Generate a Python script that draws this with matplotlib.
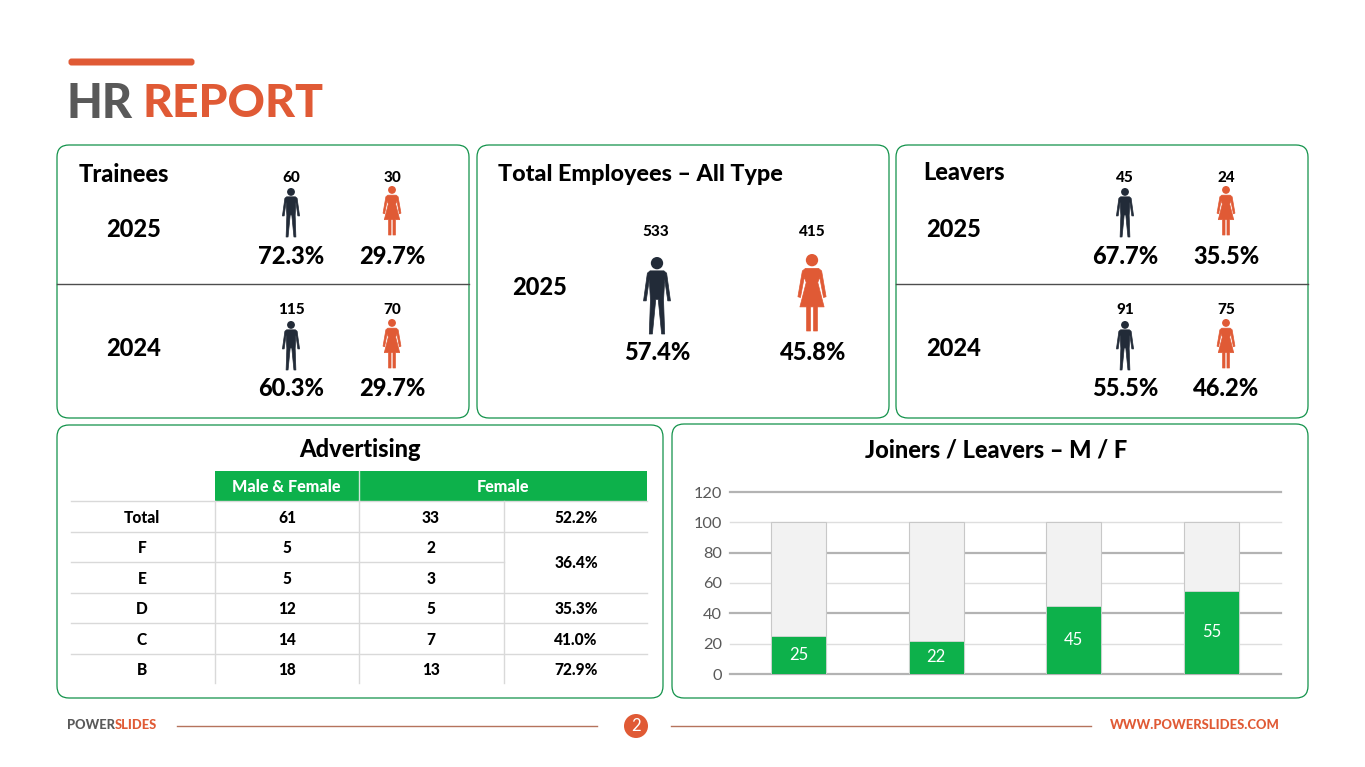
#!/usr/bin/env python3
"""HR report slide, drawn on one pixel-sized canvas plus one axes for the bar chart."""

import matplotlib
matplotlib.use("Agg")
import matplotlib.pyplot as plt
from matplotlib.patches import Circle, FancyBboxPatch, Polygon, Rectangle

plt.rcParams["font.family"] = ["Lato", "DejaVu Sans"]

ORANGE = "#e05a35"
DARK = "#222b38"
GREEN = "#0db14b"
BORDER = "#12924a"
GREY_TITLE = "#595959"
BLACK = "#000000"
HEAVY = 900

# ---- Data ----
TRAINEES_YEARS = ["2025", "2024"]
TRAINEES_MALE = ["60", "115"]
TRAINEES_FEMALE = ["30", "70"]
TRAINEES_MALE_PCT = ["72.3%", "60.3%"]
TRAINEES_FEMALE_PCT = ["29.7%", "29.7%"]

TOTAL_YEAR = "2025"
TOTAL_MALE = "533"
TOTAL_FEMALE = "415"
TOTAL_MALE_PCT = "57.4%"
TOTAL_FEMALE_PCT = "45.8%"

LEAVERS_YEARS = ["2025", "2024"]
LEAVERS_MALE = ["45", "91"]
LEAVERS_FEMALE = ["24", "75"]
LEAVERS_MALE_PCT = ["67.7%", "55.5%"]
LEAVERS_FEMALE_PCT = ["35.5%", "46.2%"]

AD_ROWS = ["Total", "F", "E", "D", "C", "B"]
AD_ALL = [61, 5, 5, 12, 14, 18]
AD_FEMALE = [33, 2, 3, 5, 7, 13]
AD_PCT = ["52.2%", "36.4%", None, "35.3%", "41.0%", "72.9%"]

JOINER_CATS = ["A", "B", "C", "D"]
JOINER_VALUES = [25, 22, 45, 55]
JOINER_TOTAL = [100, 100, 100, 100]
Y_TICKS = [0, 20, 40, 60, 80, 100, 120]

# icon outlines, right half only, in fractions of the icon height
MAN_HALF = [(0, .18), (.09, .18), (.125, .21), (.175, .57), (.14, .57), (.10, .29),
            (.085, .56), (.10, 1), (.06, 1), (.016, .55), (0, .55)]
WOMAN_HALF = [(0, .187), (.085, .187), (.125, .22), (.183, .555), (.15, .565), (.10, .30),
              (.075, .37), (.157, .687), (.07, .687), (.07, 1), (.02, 1), (.02, .687), (0, .687)]

fig = plt.figure(figsize=(13.65, 7.67), dpi=100)
canvas = fig.add_axes([0, 0, 1, 1])
canvas.set_xlim(0, 1365)
canvas.set_ylim(767, 0)
canvas.axis("off")


def label(x, y, s, size=12, color=BLACK, ha="center", weight=HEAVY):
    canvas.text(x, y + 1.5, s, fontsize=size, color=color, ha=ha, va="center", fontweight=weight)


def panel(x0, y0, x1, y1):
    canvas.add_patch(FancyBboxPatch((x0 + 12, y0 + 12), x1 - x0 - 24, y1 - y0 - 24,
                                    boxstyle="round,pad=12,rounding_size=12",
                                    fc="white", ec=BORDER, lw=0.9))


def person(cx, top, height, half, color):
    pts = [(cx + dx * height, top + dy * height) for dx, dy in half]
    pts += [(cx - dx * height, top + dy * height) for dx, dy in reversed(half)]
    canvas.add_patch(Polygon(pts, closed=True, fc=color, ec=color, lw=0.5, joinstyle="round"))
    canvas.add_patch(Circle((cx, top + 0.08 * height), 0.08 * height, fc=color, ec="none"))


def year_block(xm, xf, x_year, y_year, top, year, male, female, male_pct, female_pct):
    label(x_year, y_year, year, 17)
    label(xm, top - 12, male, 11)
    label(xf, top - 12, female, 11)
    person(xm, top, 49, MAN_HALF, DARK)
    person(xf, top - 2, 49, WOMAN_HALF, ORANGE)
    label(xm, top + 66.5, male_pct, 17)
    label(xf, top + 66.5, female_pct, 17)


# ---- Header ----
canvas.add_patch(FancyBboxPatch((71, 61), 121, 2, boxstyle="round,pad=2.5,rounding_size=3",
                                fc=ORANGE, ec="none"))
canvas.text(66, 104, "HR", fontsize=33.5, color=GREY_TITLE, fontweight=HEAVY, va="center")
canvas.text(143, 104, "REPORT", fontsize=33.3, color=ORANGE, fontweight=HEAVY, va="center")

# ---- Top panels ----
panel(57, 145, 469, 418)
panel(477, 145, 889, 418)
panel(896, 145, 1308, 418)
panel(57, 425, 663, 698)
panel(672, 424, 1308, 698)

canvas.plot([57, 469], [284, 284], color="#4d4d4d", lw=1)
canvas.plot([896, 1308], [284, 284], color="#4d4d4d", lw=1)

label(79, 173, "Trainees", 17, ha="left")
for i, (top, y_year) in enumerate(zip([188, 321], [228, 347])):
    year_block(291, 392, 134, y_year, top, TRAINEES_YEARS[i], TRAINEES_MALE[i], TRAINEES_FEMALE[i],
               TRAINEES_MALE_PCT[i], TRAINEES_FEMALE_PCT[i])

label(498, 173, "Total Employees \u2013 All Type", 16.8, ha="left")
label(540, 286, TOTAL_YEAR, 17)
label(656, 231, TOTAL_MALE, 11)
label(812, 231, TOTAL_FEMALE, 11)
person(657, 257, 77, MAN_HALF, DARK)
person(812, 254, 77, WOMAN_HALF, ORANGE)
label(657, 350.5, TOTAL_MALE_PCT, 17)
label(813, 350.5, TOTAL_FEMALE_PCT, 17)

label(923, 171, "Leavers", 17, ha="left")
for i, (top, y_year) in enumerate(zip([188, 321], [228, 347])):
    year_block(1125, 1226, 954, y_year, top, LEAVERS_YEARS[i], LEAVERS_MALE[i], LEAVERS_FEMALE[i],
               LEAVERS_MALE_PCT[i], LEAVERS_FEMALE_PCT[i])

# ---- Advertising table ----
label(360, 448, "Advertising", 17)
col_x = [71, 214.5, 359, 503.5, 647]
row_y = [501, 531.5, 562, 592.5, 623, 653.5, 683]
LINE = "#d9d9d9"

canvas.add_patch(Rectangle((col_x[1], 471), col_x[4] - col_x[1], 30, fc=GREEN, ec="none"))
canvas.plot([col_x[2], col_x[2]], [471, 501], color="#cfe8d8", lw=1)
label((col_x[1] + col_x[2]) / 2, 486, "Male & Female", 11.6, color="white")
label((col_x[2] + col_x[4]) / 2, 486, "Female", 11.6, color="white")

for i, y in enumerate(row_y[:-1]):
    # the F row shares its percent cell with E, so that rule stops short
    x_end = col_x[3] if i == 2 else col_x[4]
    canvas.plot([col_x[0], x_end], [y, y], color=LINE, lw=1)
for x in col_x[1:4]:
    canvas.plot([x, x], [501, row_y[-1]], color=LINE, lw=1)

for i, name in enumerate(AD_ROWS):
    y = (row_y[i] + row_y[i + 1]) / 2
    label(142, y, name, 11.2)
    label(287, y, str(AD_ALL[i]), 11.2)
    label(431, y, str(AD_FEMALE[i]), 11.2)
    if AD_PCT[i] is not None:
        y_pct = row_y[i + 1] if name == "F" else y
        label(576, y_pct, AD_PCT[i], 11.2)

# ---- Bar chart ----
label(996, 448, "Joiners / Leavers \u2013 M / F", 17)

ax = fig.add_axes([729.5 / 1365, (767 - 674) / 767, 551 / 1365, 182 / 767])
ax.patch.set_alpha(0)
ax.set_xlim(-0.5, 3.5)
ax.set_ylim(0, 120)
for side in ax.spines.values():
    side.set_visible(False)
ax.set_xticks([])
ax.set_yticks(Y_TICKS)
ax.tick_params(axis="y", length=0, pad=5.5, labelsize=11.8, labelcolor="#595959")
for tick in Y_TICKS:
    heavy = tick % 40 == 0
    ax.axhline(tick, color="#b3b3b3" if heavy else "#dedede", lw=1.6 if heavy else 1,
               zorder=1, clip_on=False)

xs = range(len(JOINER_CATS))
ax.bar(xs, JOINER_TOTAL, width=0.4, color="#f2f2f2", edgecolor="#c8c8c8", linewidth=0.8, zorder=2)
bars = ax.bar(xs, JOINER_VALUES, width=0.4, color=GREEN, edgecolor="#d8d8d8", linewidth=0.6, zorder=3)
ax.bar_label(bars, label_type="center", color="white", fontsize=12, zorder=4)

# ---- Footer ----
canvas.text(67, 725, "POWER", fontsize=9.3, color=GREY_TITLE, fontweight=HEAVY, va="center")
canvas.text(115, 725, "SLIDES", fontsize=9.3, color=ORANGE, fontweight=HEAVY, va="center")
canvas.plot([177, 597], [725.5, 725.5], color="#b5735c", lw=1)
canvas.plot([671, 1091], [725.5, 725.5], color="#b5735c", lw=1)
canvas.add_patch(Circle((636, 726), 12, fc=ORANGE, ec="none"))
label(636, 724.5, "2", 12, color="white", weight="normal")
label(1280, 723.5, "WWW.POWERSLIDES.COM", 9.4, color=ORANGE, ha="right")

fig.savefig("out.png", dpi=100)
